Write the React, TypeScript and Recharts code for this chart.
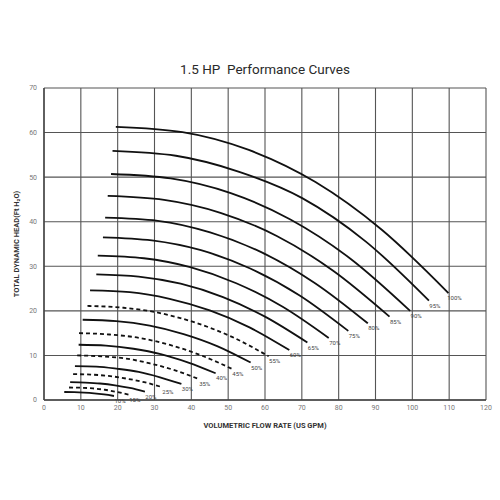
import React from 'react';
import { LineChart, Line, XAxis, YAxis, CartesianGrid } from 'recharts';

const speedLabels = ['100%', '95%', '90%', '85%', '80%', '75%', '70%', '65%', '60%', '55%', '50%', '45%', '40%', '35%', '30%', '25%', '20%', '15%', '10%'];
const dashedSpeeds = ['55%', '45%', '35%', '25%', '15%'];

const flowPoints: number[][] = [
  [19.5, 37.6, 55.6, 73.7, 91.7, 109.8],
  [18.6, 35.8, 53.0, 70.1, 87.3, 104.5],
  [18.2, 34.4, 50.7, 66.9, 83.2, 99.4],
  [17.3, 32.6, 47.9, 63.2, 78.5, 93.8],
  [16.6, 30.9, 45.1, 59.4, 73.6, 87.9],
  [16.0, 29.3, 42.6, 56.0, 69.3, 82.6],
  [14.6, 27.1, 39.7, 52.2, 64.8, 77.3],
  [14.2, 25.7, 37.1, 48.6, 60.0, 71.5],
  [12.5, 23.3, 34.1, 45.0, 55.8, 66.6],
  [11.8, 21.6, 31.5, 41.3, 51.2, 61.0],
  [10.5, 19.6, 28.7, 37.9, 47.0, 56.1],
  [9.5, 17.8, 26.1, 34.4, 42.7, 51.0],
  [9.4, 16.8, 24.3, 31.7, 39.2, 46.6],
  [9.0, 15.6, 22.2, 28.8, 35.4, 42.0],
  [8.4, 14.2, 20.0, 25.7, 31.5, 37.3],
  [7.9, 12.7, 17.5, 22.4, 27.2, 32.0],
  [7.1, 11.2, 15.2, 19.3, 23.3, 27.4],
  [6.8, 10.0, 13.3, 16.5, 19.8, 23.0],
  [5.5, 8.2, 10.9, 13.6, 16.3, 19.0],
];

const headPoints: number[][] = [
  [61.3, 60.1, 56.1, 48.9, 38.2, 24.0],
  [55.9, 54.8, 51.2, 45.3, 35.6, 22.3],
  [50.7, 49.7, 46.4, 40.5, 31.7, 20.0],
  [45.8, 44.9, 42.0, 36.8, 29.0, 18.7],
  [40.9, 40.2, 37.6, 33.0, 26.2, 17.2],
  [36.5, 35.8, 33.6, 29.5, 23.5, 15.5],
  [32.4, 31.8, 29.8, 26.2, 20.9, 13.9],
  [28.2, 27.7, 26.1, 23.1, 18.7, 12.9],
  [24.6, 24.2, 22.7, 20.1, 16.3, 11.2],
  [21.1, 20.7, 19.5, 17.3, 14.1, 9.8],
  [18.0, 17.7, 16.7, 14.8, 12.1, 8.4],
  [15.0, 14.7, 13.9, 12.3, 10.0, 7.0],
  [12.4, 12.2, 11.5, 10.3, 8.4, 6.0],
  [10.0, 9.8, 9.3, 8.2, 6.7, 4.7],
  [7.6, 7.5, 7.0, 6.3, 5.1, 3.6],
  [5.8, 5.7, 5.4, 4.8, 4.0, 2.9],
  [4.0, 3.9, 3.7, 3.3, 2.7, 1.9],
  [2.8, 2.75, 2.6, 2.3, 1.8, 1.2],
  [1.8, 1.77, 1.67, 1.5, 1.24, 0.9],
];

const xTicks = [0, 10, 20, 30, 40, 50, 60, 70, 80, 90, 100, 110, 120];
const yTicks = [0, 10, 20, 30, 40, 50, 60, 70];

const FONT = 'Roboto, "DejaVu Sans", sans-serif';

export default function App() {
  const series = speedLabels.map((s, i) => ({
    name: s,
    dashed: dashedSpeeds.includes(s),
    data: flowPoints[i].map((q, j) => ({ q, h: headPoints[i][j] })),
  }));

  const endLabel = (name: string, last: number) => (props: any) => {
    if (props.index !== last) return <g key={`e-${name}-${props.index}`} />;
    return (
      <text
        key={`lbl-${name}`}
        x={props.x + 6}
        y={props.y + 7}
        textAnchor="middle"
        fontSize={6}
        fontFamily={FONT}
        style={{ fill: '#444', stroke: 'none' }}
      >
        {name}
      </text>
    );
  };

  return (
    <div style={{ position: 'absolute', left: 0, top: 0, width: 500, height: 500, background: '#fff' }}>
      <div
        style={{
          position: 'absolute',
          left: 0,
          top: 60,
          width: 530,
          textAlign: 'center',
          fontFamily: FONT,
          fontSize: 13.5,
          lineHeight: '18px',
          color: '#2a2a2a',
          fontWeight: 400,
        }}
      >
        1.5 HP&nbsp; Performance Curves
      </div>
      <LineChart width={500} height={500} margin={{ top: 88, right: 14, bottom: 60, left: 0 }}>
        <CartesianGrid stroke="#555" strokeWidth={1.1} />
        <XAxis
          type="number"
          dataKey="q"
          domain={[0, 120]}
          ticks={xTicks}
          interval={0}
          allowDataOverflow
          height={40}
          tickLine={false}
          axisLine={{ stroke: '#444', strokeWidth: 1.4 }}
          tickSize={0}
          tickMargin={5}
          tick={{ fontSize: 7, fill: '#777', fontFamily: FONT }}
          label={{
            value: 'VOLUMETRIC FLOW RATE (US GPM)',
            position: 'insideBottom',
            offset: 12,
            style: { fontSize: 7.5, fill: '#333', fontWeight: 700, fontFamily: FONT },
          }}
        />
        <YAxis
          type="number"
          dataKey="h"
          domain={[0, 70]}
          ticks={yTicks}
          interval={0}
          allowDataOverflow
          width={44}
          tickLine={false}
          axisLine={{ stroke: '#444', strokeWidth: 1.4 }}
          tickSize={0}
          tickMargin={7}
          tick={{ fontSize: 7, fill: '#777', fontFamily: FONT }}
          label={{
            value: 'TOTAL DYNAMIC HEAD(Ft H₂O)',
            angle: -90,
            position: 'insideLeft',
            offset: 16,
            style: { fontSize: 7.5, fill: '#333', fontWeight: 700, fontFamily: FONT, textAnchor: 'middle' },
          }}
        />
        {series.map((s) => (
          <Line
            key={s.name}
            data={s.data}
            dataKey="h"
            type="monotone"
            stroke="#111"
            strokeWidth={1.8}
            strokeDasharray={s.dashed ? '4 3' : undefined}
            dot={false}
            activeDot={false}
            isAnimationActive={false}
            label={endLabel(s.name, s.data.length - 1)}
          />
        ))}
      </LineChart>
    </div>
  );
}
